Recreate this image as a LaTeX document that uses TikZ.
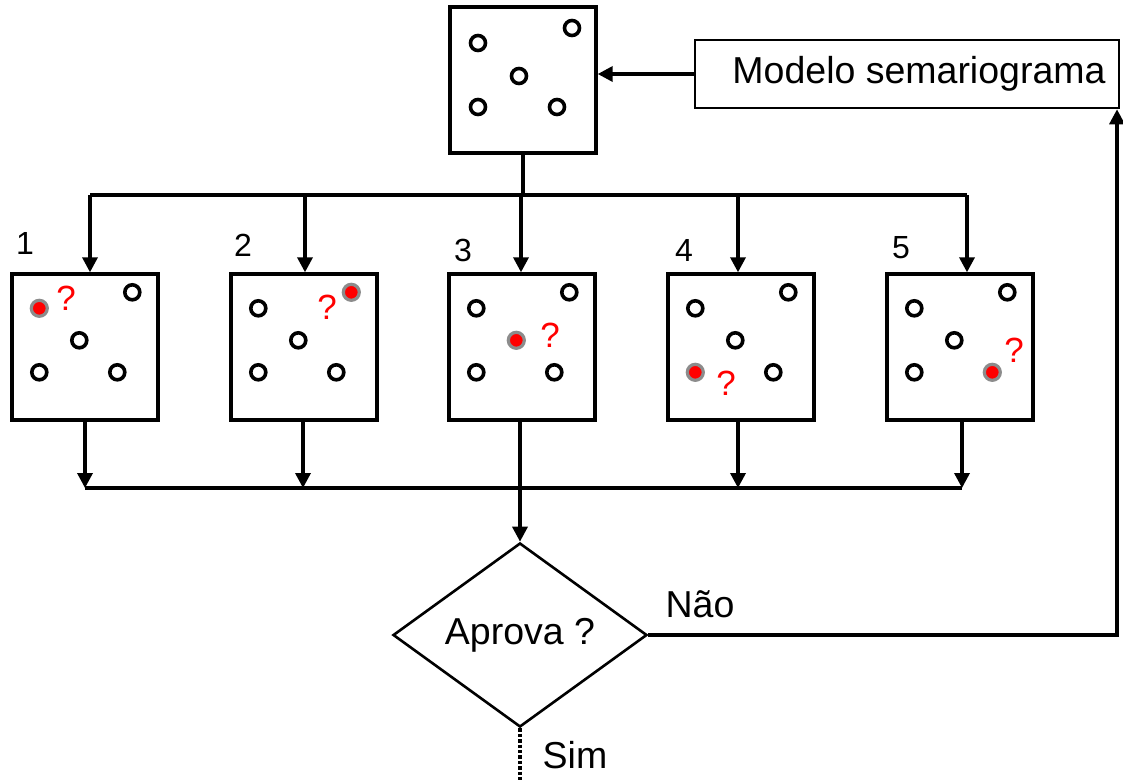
\documentclass[tikz,border=0pt]{standalone}
\usepackage{fontspec}
\setmainfont{Liberation Sans}
\usetikzlibrary{arrows.meta,shapes.geometric,calc}
\begin{document}
\begin{tikzpicture}[x=1pt,y=-1pt,
  conn/.style={line width=3.4pt},
  arr/.style={conn,-{Triangle[length=15pt,width=15pt]}},
  sqbox/.style={draw,line width=3.4pt,minimum width=146pt,minimum height=146pt,inner sep=0pt},
  hole/.style={circle,draw,line width=3.6pt,minimum size=15pt,inner sep=0pt},
  redpt/.style={circle,draw=gray!90,fill=red,line width=3.2pt,minimum size=16pt,inner sep=0pt},
  qm/.style={text=red,font=\fontsize{35}{40}\selectfont,inner sep=0pt},
  lab/.style={font=\fontsize{37.5}{44}\selectfont,inner sep=0pt},
  num/.style={font=\fontsize{32}{38}\selectfont,inner sep=0pt}]
\useasboundingbox (0,0) rectangle (1123,780);

% top box
\node[sqbox] (top) at (523,80) {};
\foreach \dx/\dy [count=\k] in {29/36,123/21,70/69,29/100,108/100}
  \node[hole] (th\k) at ($(449,7)+(\dx,\dy)$) {};

% model box
\node[draw,line width=2.6pt,minimum width=424pt,minimum height=68pt,inner sep=0pt,lab] (model) at (907,74) {\hspace*{24pt}Modelo semariograma};

% five boxes
\foreach \i/\cx in {1/85,2/304,3/522,4/741,5/960}
  \node[sqbox] (b\i) at (\cx,347) {};

% hole positions relative to box top-left corner
\def\holes#1#2{%
  \foreach \dx/\dy [count=\k] in {29/36,122/20,69/68,29/100,107/100}{%
    \ifnum\k=#2\relax
      \node[redpt] (p#1) at ($(b#1.north west)+(\dx,\dy)$) {};
    \else
      \node[hole] (h#1\k) at ($(b#1.north west)+(\dx,\dy)$) {};
    \fi}}
\holes{1}{1}
\holes{2}{2}
\holes{3}{3}
\holes{4}{4}
\holes{5}{5}

% question marks
\node[qm] (q1) at (66,298) {?};
\node[qm] (q2) at (327,307) {?};
\node[qm] (q3) at (550,335) {?};
\node[qm] (q4) at (726,383) {?};
\node[qm] (q5) at (1014,350) {?};

% numbers
\node[num] (n1) at (25,243) {1};
\node[num] (n2) at (243,245) {2};
\node[num] (n3) at (463,250) {3};
\node[num] (n4) at (684,250) {4};
\node[num] (n5) at (901,248) {5};

% decision
\node[draw,diamond,line width=2.6pt,minimum width=254pt,minimum height=184pt,inner sep=0pt,lab] (d) at (520,635) {Aprova ?};

% top connectors
\draw[arr] (model.west) -- (top.east |- model.west);
\coordinate (busTL) at (90,195);
\coordinate (busTR) at (967,195);
\draw[conn] (top.south) -- (top.south |- busTL);
\draw[conn] (busTL) -- (busTR);
\foreach \i/\x in {1/90,2/305,3/521,4/738,5/967}{
  \coordinate (t\i) at (\x,195);
  \draw[arr] (t\i) -- (t\i |- b\i.north);
}

% bottom connectors
\coordinate (busBL) at (85,488);
\coordinate (busBR) at (962,488);
\foreach \i/\x in {1/85,2/303,4/738,5/962}{
  \coordinate (s\i) at (\x,488);
  \draw[arr] (s\i |- b\i.south) -- (s\i);
}
\draw[conn] (busBL) -- (busBR);
\draw[arr] (b3.south -| d.north) -- (d.north);

% outcomes
\coordinate (simEnd) at (520,780);
\draw[conn,dotted] (d.south) -- (simEnd);
\node[lab] (sim) at (575,755) {Sim};
\coordinate (nr) at (1117,635);
\draw[arr] (d.east) -- (nr) -- (nr |- model.south);
\node[lab] (nao) at (700,604) {Não};
\end{tikzpicture}
\end{document}
